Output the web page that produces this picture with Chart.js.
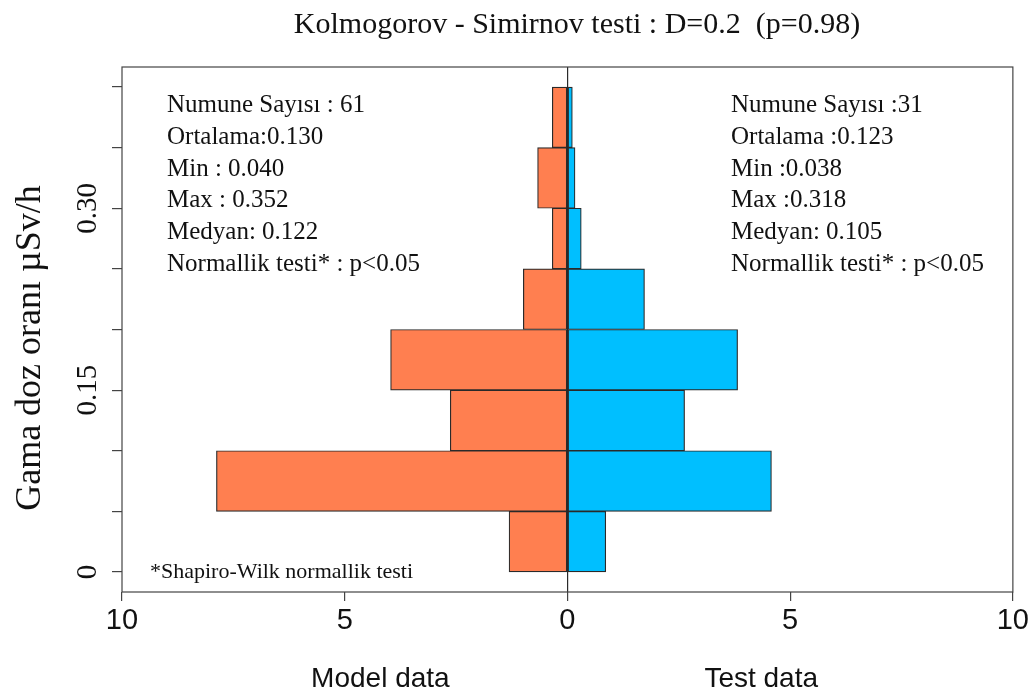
<!DOCTYPE html>
<html>
<head>
<meta charset="utf-8">
<script src="https://cdn.jsdelivr.net/npm/chart.js@4"></script>
<style>
  html, body { margin: 0; padding: 0; background: #fff; }
  #wrap { width: 1032px; height: 695px; }
</style>
</head>
<body>
<div id="wrap"><canvas id="histChart" width="1032" height="695"></canvas></div>
<script>
// histogram bins (gamma dose rate, µSv/h), centre of each 0.05 bin
const binCenters = [0.025, 0.075, 0.125, 0.175, 0.225, 0.275, 0.325, 0.375];
// density
const modelDensity = [1.31, 7.88, 2.63, 3.97, 0.99, 0.34, 0.67, 0.34];
const testDensity = [0.86, 4.58, 2.63, 3.82, 1.73, 0.31, 0.17, 0.11];
const yTickLabels = ['0', '0.15', '0.30'];

const modelStats = [
    'Numune Sayısı : 61',
    'Ortalama:0.130',
    'Min : 0.040',
    'Max : 0.352',
    'Medyan: 0.122',
    'Normallik testi* : p<0.05'
];
const testStats = [
    'Numune Sayısı :31',
    'Ortalama :0.123',
    'Min :0.038',
    'Max :0.318',
    'Medyan: 0.105',
    'Normallik testi* : p<0.05'
];

const SERIF = '"Liberation Serif", "Times New Roman", serif';
const SANS = '"Liberation Sans", Arial, sans-serif';

// texts, box and axis titles drawn on top of the chart
const annotations = {
    id: 'annotations',
    afterDraw(chart) {
        const { ctx, chartArea, scales } = chart;
        const x = scales.x;
        ctx.save();
        // frame
        ctx.strokeStyle = '#444';
        ctx.lineWidth = 1.2;
        ctx.strokeRect(chartArea.left, chartArea.top, chartArea.right - chartArea.left, chartArea.bottom - chartArea.top);

        ctx.fillStyle = '#111';
        ctx.textBaseline = 'alphabetic';

        // title
        ctx.font = '30px ' + SERIF;
        ctx.textAlign = 'center';
        ctx.fillText('Kolmogorov - Simirnov testi : D=0.2  (p=0.98)', 577, 33);

        // stats blocks
        ctx.font = '25px ' + SERIF;
        ctx.textAlign = 'left';
        modelStats.forEach((t, i) => ctx.fillText(t, 167, 112 + i * 31.8));
        testStats.forEach((t, i) => ctx.fillText(t, 731, 112 + i * 31.8));

        ctx.font = '22px ' + SERIF;
        ctx.fillText('*Shapiro-Wilk normallik testi', 150, 578);

        // x titles
        ctx.font = '28px ' + SANS;
        ctx.textAlign = 'center';
        ctx.fillText('Model data', x.getPixelForValue(-4.2), 687);
        ctx.fillText('Test data', x.getPixelForValue(4.35), 687);

        // y title
        ctx.font = '36px ' + SERIF;
        ctx.translate(40, 348);
        ctx.rotate(-Math.PI / 2);
        ctx.fillText('Gama doz oranı µSv/h', 0, 0);
        ctx.restore();
    }
};

const ctx = document.getElementById('histChart').getContext('2d');
const histChart = new Chart(ctx, {
    type: 'bar',
    data: {
        datasets: [{
            label: 'Model data',
            data: binCenters.map((v, i) => ({ y: v, x: -modelDensity[i] })),
            backgroundColor: '#FF7F50',
            borderColor: '#2a2a2a',
            borderWidth: 1.2,
            borderSkipped: false,
            grouped: false,
            barPercentage: 1,
            categoryPercentage: 1
        }, {
            label: 'Test data',
            data: binCenters.map((v, i) => ({ y: v, x: testDensity[i] })),
            backgroundColor: '#00BFFF',
            borderColor: '#2a2a2a',
            borderWidth: 1.2,
            borderSkipped: false,
            grouped: false,
            barPercentage: 1,
            categoryPercentage: 1
        }]
    },
    options: {
        indexAxis: 'y',
        responsive: false,
        animation: false,
        devicePixelRatio: 1,
        layout: { padding: { top: 67, right: 19, left: 0, bottom: 0 } },
        plugins: {
            legend: { display: false },
            tooltip: { enabled: false }
        },
        scales: {
            x: {
                type: 'linear',
                min: -10,
                max: 10,
                afterFit: s => { s.height = 103; },
                border: { display: false },
                grid: {
                    drawOnChartArea: true,
                    color: c => (c.tick && c.tick.value === 0) ? '#2a2a2a' : 'rgba(0,0,0,0)',
                    tickColor: '#444',
                    tickLength: 9,
                    lineWidth: 1.2
                },
                ticks: {
                    stepSize: 5,
                    color: '#111',
                    padding: 3,
                    font: { family: SANS, size: 29 },
                    callback: v => String(Math.abs(v))
                }
            },
            y: {
                type: 'linear',
                offset: false,
                min: -0.0165,
                max: 0.4165,
                afterFit: s => { s.width = 122; },
                border: { display: false },
                grid: {
                    offset: false,
                    drawOnChartArea: false,
                    tickColor: '#444',
                    tickLength: 10,
                    lineWidth: 1.2
                },
                ticks: {
                    stepSize: 0.05,
                    includeBounds: false,
                    minRotation: 90,
                    maxRotation: 90,
                    crossAlign: 'center',
                    padding: -2,
                    color: '#111',
                    font: { family: SERIF, size: 29 },
                    callback: v => {
                        const s = v.toFixed(2);
                        if (s === '0.00') return yTickLabels[0];
                        if (s === '0.15') return yTickLabels[1];
                        if (s === '0.30') return yTickLabels[2];
                        return '';
                    }
                }
            }
        }
    },
    plugins: [annotations]
});
</script>
</body>
</html>
